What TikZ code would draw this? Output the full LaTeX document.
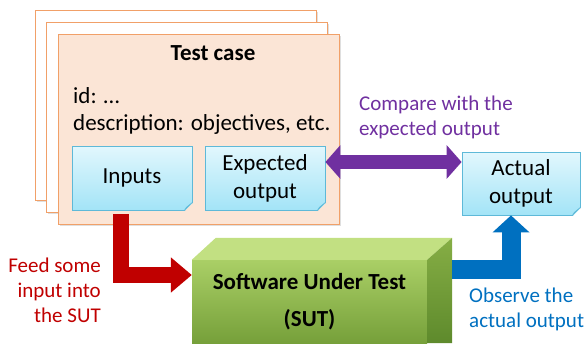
\documentclass[tikz,border=0pt]{standalone}
\usepackage{fontspec}
\setmainfont{Carlito}
\usetikzlibrary{arrows.meta,shadows}
\definecolor{cardfill}{HTML}{FBE5D6}
\definecolor{cardline}{HTML}{F1A068}
\definecolor{boxtop}{HTML}{E2F7FD}
\definecolor{boxbot}{HTML}{A3E4F7}
\definecolor{boxline}{HTML}{5EB9D8}
\definecolor{foldc}{HTML}{7FCBE3}
\definecolor{redc}{HTML}{C00000}
\definecolor{purp}{HTML}{7030A0}
\definecolor{bluec}{HTML}{0070C0}
\definecolor{gtop}{HTML}{AACF66}
\definecolor{gbot}{HTML}{76A03A}
\definecolor{gtopface}{HTML}{C2E082}
\definecolor{gsidetop}{HTML}{86AE45}
\definecolor{gsidebot}{HTML}{5E8A2C}
\newcommand\mainfs{\fontsize{23}{28}\selectfont}
\newcommand\labfs{\fontsize{21}{25}\selectfont}
\newcommand\dogear[2]{%
  \fill[#2] ([xshift=-8pt,yshift=-1pt]#1.south east) -- ([xshift=1pt,yshift=-1pt]#1.south east) -- ([xshift=1pt,yshift=8pt]#1.south east) -- cycle;
  \filldraw[draw=boxline, fill=foldc, line width=0.6pt, line join=round] ([xshift=-8pt]#1.south east) -- ([yshift=8pt]#1.south east) -- ([xshift=-6pt,yshift=3pt]#1.south east) -- cycle;}
\tikzset{
  card/.style={draw=cardline, line width=1pt, fill=white, minimum width=281pt, minimum height=190pt, inner sep=0pt,
    drop shadow={opacity=0.25, shadow xshift=1.5pt, shadow yshift=-1.5pt}},
  notebox/.style={draw=boxline, line width=0.8pt, top color=boxtop, bottom color=boxbot, minimum width=120pt, minimum height=64pt, inner sep=0pt, align=center, font=\mainfs},
  lab/.style={font=\labfs, inner sep=0pt},
  redarr/.style={draw=redc, line width=16pt, line join=miter, -{Triangle[length=21pt,width=34pt]}},
  purparr/.style={draw=purp, line width=14pt, {Triangle[length=15pt,width=33pt]}-{Triangle[length=15pt,width=33pt]}},
  bluearr/.style={draw=bluec, line width=19pt, line join=miter, -{Triangle[length=17pt,width=36pt]}}
}
\begin{document}
\begin{tikzpicture}[x=1pt,y=-1pt]
\useasboundingbox (0,0) rectangle (588,343);
% cards
\node[card] (card3) at (175.5,105) {};
\node[card] (card2) at (186.5,117) {};
\node[card, fill=cardfill] (card) at (198.5,129) {};
\node[font=\bfseries\mainfs, anchor=base, inner sep=0pt] (title) at (213,60) {Test case};
\node[font=\mainfs, anchor=base west, inner sep=0pt] (id) at (73,103) {id: …};
\node[font=\mainfs, anchor=base west, inner sep=0pt] (desc) at (73,130) {description: objectives, etc.};
\node[notebox] (inputs) at (132,178) {Inputs};
\node[notebox] (expected) at (265,178) {Expected\\output};
\dogear{inputs}{cardfill}
\dogear{expected}{cardfill}
\node[notebox, minimum width=118pt, minimum height=63pt] (actual) at (521,183.5) {Actual\\output};
\dogear{actual}{white}
% SUT box
\node[top color=gtop, bottom color=gbot, minimum width=235pt, minimum height=83pt, inner sep=0pt, align=center,
  font=\bfseries\mainfs] (sut) at (309.5,301.5) {Software Under Test\\[9pt](SUT)};
\fill[gtopface] (sut.north west) -- ([xshift=24pt,yshift=22pt]sut.north west) -- ([xshift=25pt,yshift=22pt]sut.north east) -- (sut.north east) -- cycle;
\shade[top color=gsidetop, bottom color=gsidebot] (sut.north east) -- ([xshift=25pt,yshift=22pt]sut.north east) -- ([xshift=25pt]sut.south east) -- (sut.south east) -- cycle;
% arrows
\coordinate (rstart) at ([xshift=-11.5pt,yshift=-4pt]inputs.south);
\coordinate (rend) at ([yshift=26.5pt]sut.west);
\draw[redarr] (rstart) |- (rend);
\coordinate (pa) at ([yshift=16pt]expected.east);
\draw[purparr] (pa) -- (actual.west |- pa);
\coordinate (bstart) at ([xshift=25pt,yshift=32.5pt]sut.east);
\coordinate (bend) at ([xshift=-10pt]actual.south);
\draw[bluearr] (bstart) -| (bend);
% labels
\node[lab, text=redc, align=right, anchor=east] (feed) at (101,290) {Feed some\\input into\\the SUT};
\node[lab, text=purp, align=left, anchor=west] (cmp) at (359,117) {Compare with the\\expected output};
\node[lab, text=bluec, align=left, anchor=west] (obs) at (469,309.5) {Observe the\\actual output};
\end{tikzpicture}
\end{document}
